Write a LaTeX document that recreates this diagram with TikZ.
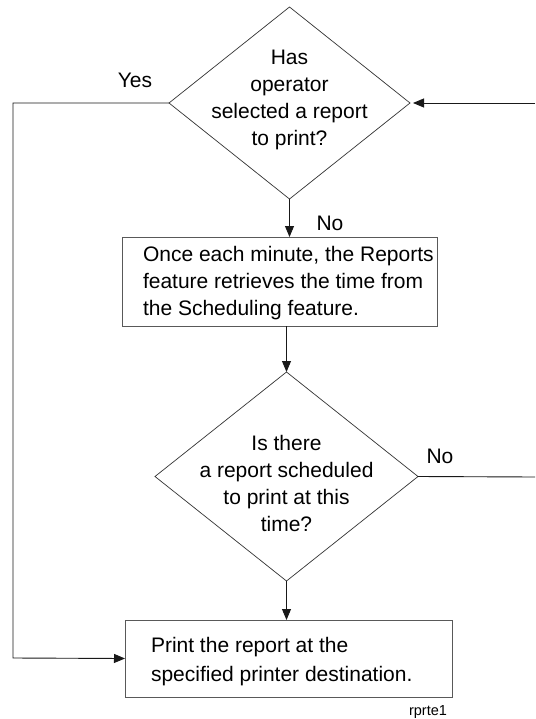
\documentclass[tikz,border=0pt]{standalone}
\usepackage{fontspec}
\setmainfont{Liberation Sans}
\usetikzlibrary{shapes.geometric,arrows.meta}
\begin{document}
\begin{tikzpicture}[x=1pt,y=-1pt,
  txt/.style={font=\fontsize{21}{27}\selectfont, inner sep=0pt, outer sep=0pt},
  dia/.style={diamond, draw=black!80, line width=0.7pt, inner sep=0pt, outer sep=0pt},
  boxx/.style={rectangle, draw=black!65, line width=0.9pt, inner sep=0pt, outer sep=0pt},
  conn/.style={draw=black!90, line width=0.9pt},
  arr/.style={conn, -{Triangle[length=11pt,width=9pt]}}]
\useasboundingbox (0,0) rectangle (535,719);
\fill[white] (0,0) rectangle (535,719);

% decision 1
\node[dia, minimum width=241pt, minimum height=192pt] (d1) at (289.5,103) {};
\node[txt, align=center] (d1t) at (289.5,100) {Has\\operator\\selected a report\\to print?};

% process box 1
\node[boxx, minimum width=315pt, minimum height=89pt] (b1) at (279.5,281.5) {};
\node[txt, align=left, anchor=west] (b1t) at (143,283.5) {Once each minute, the Reports\\feature retrieves the time from\\the Scheduling feature.};

% decision 2
\node[dia, minimum width=263pt, minimum height=209pt] (d2) at (286.5,476.5) {};
\node[txt, align=center] (d2t) at (286.5,483) {Is there\\a report scheduled\\to print at this\\time?};

% process box 2
\node[boxx, minimum width=327pt, minimum height=77pt] (b2) at (288.5,658.5) {};
\node[txt, align=left, anchor=west, font=\fontsize{21}{29}\selectfont] (b2t) at (151,661.5) {Print the report at the\\specified printer destination.};

% labels
\node[txt] (yes) at (135,80) {Yes};
\node[txt] (no1) at (330,223) {No};
\node[txt] (no2) at (440,456) {No};
\node[font=\fontsize{14.5}{17}\selectfont, inner sep=0pt] (tag) at (428,712) {rprte1};

% free ends
\coordinate (inR) at (535,103);
\coordinate (outR) at (535,477);
\coordinate (yesCorner1) at (13,103);
\coordinate (yesCorner2) at (13,658);

% connectors
\draw[arr] (d1.south) -- (d1.south |- b1.north);
\draw[arr] (d2.north |- b1.south) -- (d2.north);
\draw[arr] (d2.south) -- (d2.south |- b2.north);
\draw[arr, shorten >=3pt] (inR) -- (d1.east);
\draw[conn] (d2.east) -- (outR);
\draw[arr] (d1.west) -- (yesCorner1) -- (yesCorner2) -- (b2.west);
\end{tikzpicture}
\end{document}
